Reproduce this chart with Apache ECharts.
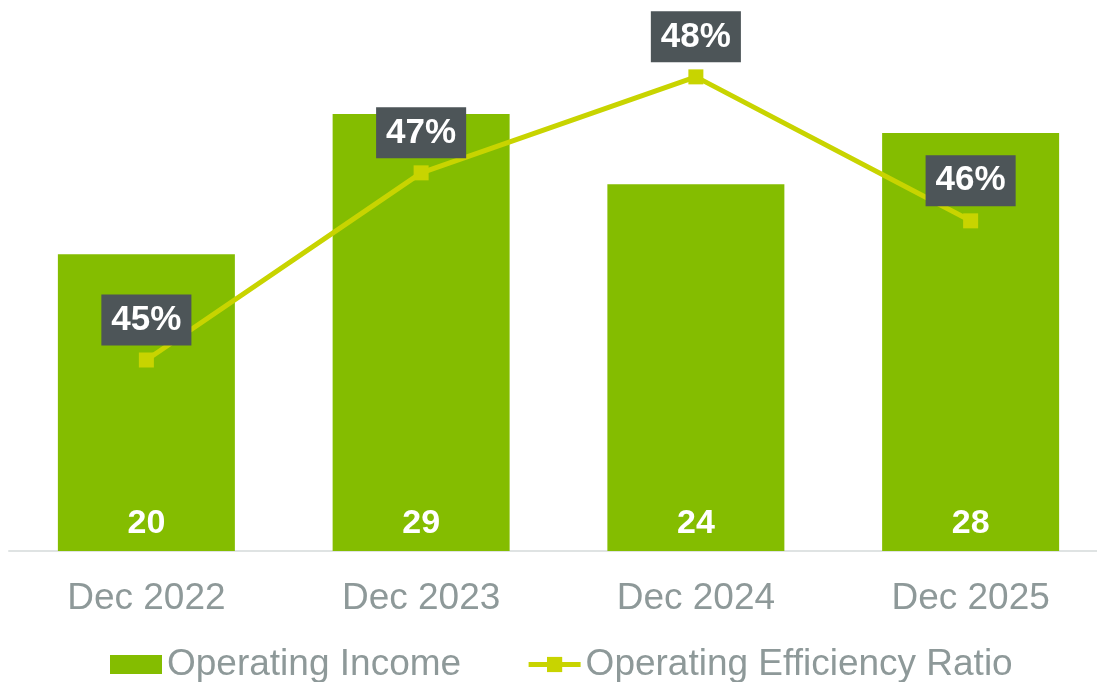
<!DOCTYPE html>
<html>
<head>
<meta charset="utf-8">
<script src="https://cdn.jsdelivr.net/npm/echarts@6/dist/echarts.min.js"></script>
<style>
  html, body { margin: 0; padding: 0; background: #fff; }
  #chart { width: 1097px; height: 682px; }
</style>
</head>
<body>
<div id="chart"></div>
<script>
const categories = ['Dec 2022', 'Dec 2023', 'Dec 2024', 'Dec 2025'];
const operatingIncome = [19.78, 29.13, 24.45, 27.87];
const efficiencyRatio = [44.65, 46.6, 47.6, 46.1];

const chart = echarts.init(document.getElementById('chart'));

const option = {
    animation: false,
    textStyle: { fontFamily: 'Liberation Sans, Arial, sans-serif' },
    grid: { left: 9, top: 26, width: 1099, height: 525, outerBoundsMode: 'none', containLabel: false },
    legend: {
        left: 110,
        top: 646,
        padding: 0,
        itemWidth: 52,
        itemHeight: 19,
        itemGap: 65,
        textStyle: { fontSize: 37, color: '#8e9999' },
        lineStyle: { width: 5 },
        data: [
            { name: 'Operating Income', icon: 'rect' },
            { name: 'Operating Efficiency Ratio' }
        ]
    },
    xAxis: {
        type: 'category',
        data: categories,
        axisLine: { lineStyle: { color: '#dfe3e3', width: 2 } },
        axisTick: { show: false },
        axisLabel: { fontSize: 37, color: '#8e9999', margin: 29 }
    },
    yAxis: [
        { type: 'value', min: 0, max: 35, show: false, splitLine: { show: false } },
        { type: 'value', min: 42.66, max: 48.13, show: false, splitLine: { show: false } }
    ],
    series: [
        {
            name: 'Operating Income',
            type: 'bar',
            data: operatingIncome,
            barWidth: 177,
            itemStyle: { color: '#84bd00' },
            label: {
                show: true,
                position: 'insideBottom',
                distance: 10,
                color: '#fff',
                fontSize: 34,
                fontWeight: 'bold',
                formatter: (p) => Math.round(p.value)
            }
        },
        {
            name: 'Operating Efficiency Ratio',
            type: 'line',
            yAxisIndex: 1,
            data: efficiencyRatio,
            symbol: 'rect',
            symbolSize: 15,
            lineStyle: { color: '#c8d400', width: 5 },
            itemStyle: { color: '#c8d400' },
            label: {
                show: true,
                position: 'top',
                distance: 7,
                color: '#fff',
                fontSize: 35,
                fontWeight: 'bold',
                backgroundColor: '#4d5558',
                padding: [6, 10, 6, 10],
                lineHeight: 39,
                formatter: (p) => Math.round(p.value) + '%'
            }
        }
    ]
};

chart.setOption(option);
</script>
</body>
</html>
